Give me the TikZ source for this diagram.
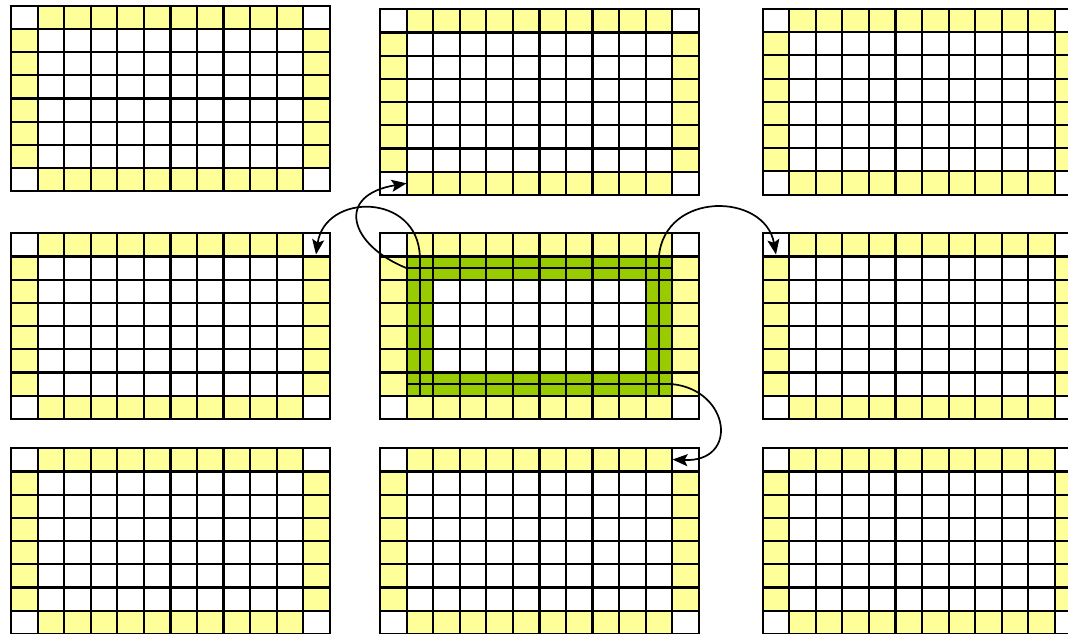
\documentclass[tikz,border=0pt]{standalone}
\usetikzlibrary{arrows.meta}
\definecolor{cellyellow}{HTML}{FFFF99}
\definecolor{ringgreen}{HTML}{99CC00}
\tikzset{
  gridline/.style={draw=black, line width=2.1pt},
  midline/.style={draw=black, line width=2.8pt},
  borderline/.style={draw=black, line width=2.1pt, line join=miter},
  halofill/.style={fill=cellyellow},
  ringfill/.style={fill=ringgreen, even odd rule},
  hopline/.style={draw=black, line width=1.7pt, -{Stealth[length=15pt,width=12pt,inset=3pt]}},
}
\newcommand{\halogrid}[2]{%
  \begin{scope}[shift={(#1,#2)}, x=26.56pt, y=-23.2pt]
    \fill[halofill] (1,0) rectangle (11,1);
    \fill[halofill] (1,7) rectangle (11,8);
    \fill[halofill] (0,1) rectangle (1,7);
    \fill[halofill] (11,1) rectangle (12,7);
    \foreach \i in {1,...,11} {\draw[gridline] (\i,0) -- (\i,8);}
    \foreach \j in {1,...,7} {\draw[gridline] (0,\j) -- (12,\j);}
    \draw[midline] (6,0) -- (6,8);
    \draw[borderline] (0,0) rectangle (12,8);
  \end{scope}}
\begin{document}
\begin{tikzpicture}[x=1pt, y=-1pt]
  \clip (0,0) rectangle (1068,633);
  \fill[white] (0,0) rectangle (1068,633);
  % top row
  \halogrid{11}{5.7}
  \halogrid{380}{9.3}
  \halogrid{762.7}{9}
  % middle row
  \halogrid{11}{233.3}
  \begin{scope}[shift={(380,233.3)}, x=26.56pt, y=-23.2pt]
    \fill[halofill] (1,0) rectangle (11,1);
    \fill[halofill] (1,7) rectangle (11,8);
    \fill[halofill] (0,1) rectangle (1,7);
    \fill[halofill] (11,1) rectangle (12,7);
    \fill[ringfill] (1,1) rectangle (11,7) (2,2) rectangle (10,6);
    \foreach \i in {1,...,11} {\draw[gridline] (\i,0) -- (\i,8);}
    \foreach \j in {1,...,7} {\draw[gridline] (0,\j) -- (12,\j);}
    \draw[gridline] (1.5,1) -- (1.5,7);
    \draw[gridline] (10.5,1) -- (10.5,7);
    \draw[gridline] (1,1.5) -- (11,1.5);
    \draw[gridline] (1,6.5) -- (11,6.5);
    \draw[midline] (6,0) -- (6,8);
    \draw[borderline] (0,0) rectangle (12,8);
    \coordinate (srcA) at (1.5,1);
    \coordinate (srcB) at (1,1.5);
    \coordinate (srcC) at (10.5,1);
    \coordinate (srcD) at (11,6.5);
  \end{scope}
  \halogrid{762.7}{233.3}
  % bottom row
  \halogrid{11}{448.3}
  \halogrid{380}{448.3}
  \halogrid{762.7}{448.3}
  % targets
  \coordinate (dstA) at (316,254.5);
  \coordinate (dstB) at (406.6,183.3);
  \coordinate (dstC) at (776,254.5);
  \coordinate (dstD) at (672.5,459.5);
  % arrows
  \draw[hopline] (srcA) .. controls +(-2,-64) and +(9,-62) .. (dstA);
  \draw[hopline] (srcB) .. controls +(-57,-23) and +(-72,12) .. (dstB);
  \draw[hopline] (srcC) .. controls +(6,-66) and +(-11,-62) .. (dstC);
  \draw[hopline] (srcD) .. controls +(58,6) and +(67,3) .. (dstD);
\end{tikzpicture}
\end{document}
